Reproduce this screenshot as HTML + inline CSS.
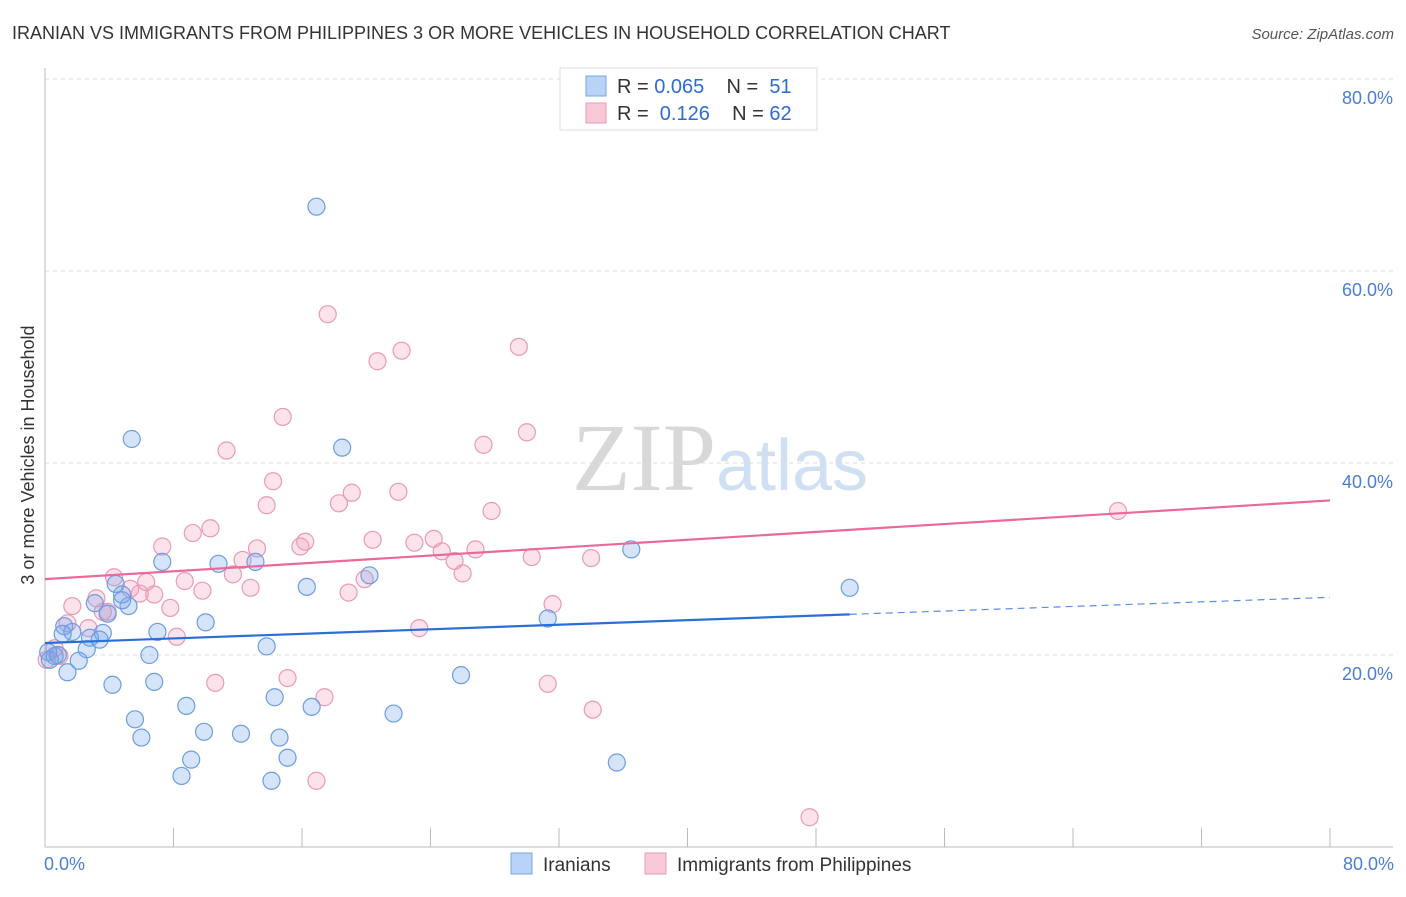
<!DOCTYPE html>
<html><head><meta charset="utf-8"><style>
body{margin:0;background:#fff;font-family:"Liberation Sans",sans-serif;}
svg text{font-family:"Liberation Sans",sans-serif;}
</style></head><body>
<svg id="chart" width="1406" height="892" xmlns="http://www.w3.org/2000/svg">
<text x="12" y="39" font-size="18" fill="#333">IRANIAN VS IMMIGRANTS FROM PHILIPPINES 3 OR MORE VEHICLES IN HOUSEHOLD CORRELATION CHART</text>
<text x="1394" y="39" font-size="15" fill="#555" font-style="italic" text-anchor="end">Source: ZipAtlas.com</text>
<text x="720" y="490" font-size="96" text-anchor="middle"><tspan fill="#d8d8d8" font-family="Liberation Serif">ZIP</tspan><tspan fill="#cfe0f3" font-size="72" font-family="Liberation Sans">atlas</tspan></text>
<text transform="translate(34,455) rotate(-90)" font-size="18" fill="#333" text-anchor="middle">3 or more Vehicles in Household</text>
<g id="grid"></g><g id="pts"></g><g id="lines"></g>
<g>
<rect x="560" y="68" width="257" height="62" fill="#fff" stroke="#ddd"/>
<rect x="586" y="76" width="20" height="20" fill="#b8d3f5" stroke="#7aa7e0"/>
<rect x="586" y="103" width="20" height="20" fill="#f9c9d8" stroke="#e89ab5"/>
<text x="617" y="93" font-size="20" fill="#333" xml:space="preserve">R = <tspan fill="#2d6cd4">0.065</tspan>    N =  <tspan fill="#2d6cd4">51</tspan></text>
<text x="617" y="120" font-size="20" fill="#333" xml:space="preserve">R =  <tspan fill="#2d6cd4">0.126</tspan>    N = <tspan fill="#2d6cd4">62</tspan></text>
</g>
<g>
<rect x="511" y="853" width="21" height="21" fill="#b8d3f5" stroke="#7aa7e0"/>
<text x="543" y="871" font-size="19" fill="#333">Iranians</text>
<rect x="645" y="853" width="21" height="21" fill="#f9c9d8" stroke="#e89ab5"/>
<text x="677" y="871" font-size="19" fill="#333">Immigrants from Philippines</text>
</g>
<text x="44" y="870" font-size="18" fill="#4a7fd0">0.0%</text>
<text x="1394" y="870" font-size="18" fill="#4a7fd0" text-anchor="end">80.0%</text>
</svg>
<script>
const yTicks=[20,40,60,80];
const yTickLabels=["20.0%","40.0%","60.0%","80.0%"];
const xTicks=[0,8,16,24,32,40,48,56,64,72,80];
const blueX=[16.9,5.4,18.5,7.3,10.8,13.1,36.5,50.1,16.3,20.2,4.4,3.1,5.2,4.8,3.9,1.2,1.7,2.8,3.6,1.1,7.0,10.0,2.6,6.5,13.8,0.2,0.6,2.1,1.4,25.9,4.2,6.8,14.3,8.8,16.6,21.7,5.6,9.9,6.0,12.2,14.6,31.3,15.1,9.1,8.5,14.1,35.6,0.3,0.8,4.8,3.4];
const blueY=[66.7,42.5,41.6,29.7,29.5,29.7,31.0,27.0,27.1,28.3,27.4,25.4,25.1,26.3,24.3,23.0,22.4,21.8,22.3,22.2,22.4,23.4,20.6,20.0,20.9,20.3,19.9,19.4,18.2,17.9,16.9,17.2,15.6,14.7,14.6,13.9,13.3,12.0,11.4,11.8,11.4,23.8,9.3,9.1,7.4,6.9,8.8,19.5,20.0,25.7,21.6];
const pinkX=[17.6,20.7,22.2,29.5,14.8,11.3,27.3,30.0,14.2,13.8,19.1,18.3,22.0,27.8,66.8,10.3,9.2,7.3,16.2,15.9,20.4,23.0,24.2,24.7,26.8,25.5,30.3,34.0,12.3,13.2,11.7,8.7,6.3,4.3,5.3,6.8,5.9,9.8,12.8,19.9,26.0,18.9,1.7,3.2,7.8,3.9,31.6,1.4,2.7,8.2,23.3,0.6,0.9,0.1,10.6,15.1,31.3,17.4,34.1,16.9,47.6,3.6];
const pinkY=[55.5,50.6,51.7,52.1,44.8,41.3,41.9,43.2,38.1,35.6,36.9,35.8,37.0,35.0,35.0,33.2,32.7,31.3,31.8,31.3,32.0,31.7,32.1,30.8,31.0,29.8,30.2,30.1,29.9,31.1,28.4,27.7,27.6,28.1,26.9,26.3,26.4,26.7,27.0,27.9,28.5,26.5,25.1,25.9,24.9,24.5,25.3,23.3,22.8,21.9,22.8,20.7,19.9,19.5,17.1,17.6,17.0,15.6,14.3,6.9,3.1,24.5];
const blueTrend=[21.25,0.0595];
const pinkTrend=[27.9,0.1025];
const blueTrendSolidEnd=50.1;

const NS="http://www.w3.org/2000/svg";
const X=v=>45+v*(1285/80);
const Y=v=>847-v*9.6;
function mk(tag,attrs,parent){const e=document.createElementNS(NS,tag);for(const k in attrs)e.setAttribute(k,attrs[k]);parent.appendChild(e);return e;}
const grid=document.getElementById('grid');
yTicks.forEach((t,i)=>{
  const l=mk('line',{x1:45,x2:1393,y1:Y(t),y2:Y(t),stroke:'#ddd','stroke-dasharray':'4,4'},grid);
  
  
  const tx=mk('text',{x:1393,y:Y(t)+25,'font-size':18,fill:'#4a7fd0','text-anchor':'end'},grid);
  tx.textContent=yTickLabels[i];
  
  
});
const ax=mk('line',{x1:45,x2:45,y1:68,y2:847,stroke:'#bbb'},grid);


const bx=mk('line',{x1:45,x2:1393,y1:847,y2:847,stroke:'#bbb'},grid);


xTicks.forEach(t=>{
  const l=mk('line',{x1:X(t),x2:X(t),y1:828,y2:847,stroke:'#bbb'},grid);
  
  
});
const pts=document.getElementById('pts');
pinkX.forEach((x,i)=>{
  const c=mk('circle',{cx:X(x),cy:Y(pinkY[i]),r:8.5,fill:'rgba(244,160,188,0.3)',stroke:'#e99ab6','stroke-width':1.2},pts);
  
  
});
blueX.forEach((x,i)=>{
  const c=mk('circle',{cx:X(x),cy:Y(blueY[i]),r:8.5,fill:'rgba(120,165,235,0.3)',stroke:'#6c9de0','stroke-width':1.2},pts);
  
  
});
const lines=document.getElementById('lines');
const bt=x=>blueTrend[0]+blueTrend[1]*x, pt=x=>pinkTrend[0]+pinkTrend[1]*x;
const l1=mk('line',{x1:X(0),y1:Y(bt(0)),x2:X(blueTrendSolidEnd),y2:Y(bt(blueTrendSolidEnd)),stroke:'#2a6fd6','stroke-width':2.2},lines);


const l2=mk('line',{x1:X(blueTrendSolidEnd),y1:Y(bt(blueTrendSolidEnd)),x2:X(80),y2:Y(bt(80)),stroke:'#5a8fe0','stroke-width':1.2,'stroke-dasharray':'7,5'},lines);


const l3=mk('line',{x1:X(0),y1:Y(pt(0)),x2:X(80),y2:Y(pt(80)),stroke:'#e8699a','stroke-width':2.2},lines);


</script>
</body></html>
